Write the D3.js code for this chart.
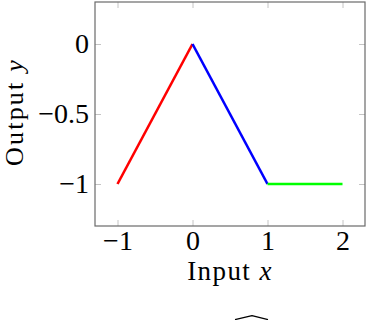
<!DOCTYPE html>
<html>
<head>
<meta charset="utf-8">
<script src="https://cdn.jsdelivr.net/npm/d3@7"></script>
<style>
  body { margin: 0; background: #fff; }
  text { font-family: "Liberation Serif", "DejaVu Serif", serif; fill: #000; }
</style>
</head>
<body>
<svg id="chart" width="366" height="320"></svg>
<script>
// piecewise segments
const segmentNames = ["rise", "fall", "flat"];
const segmentX = [[-1, 0], [0, 1], [1, 2]];
const segmentY = [[-1, 0], [0, -1], [-1, -1]];
const segmentColors = ["#ff0000", "#0000ff", "#00ff00"];

const xTicks = [-1, 0, 1, 2];
const yTicks = [0, -0.5, -1];
const xDomain = [-1.3, 2.3];
const yDomain = [-1.3, 0.3];

const svg = d3.select("#chart");
const margin = { top: 2, right: 1, bottom: 94, left: 95 };
const width = +svg.attr("width") - margin.left - margin.right;
const height = +svg.attr("height") - margin.top - margin.bottom;
const g = svg.append("g").attr("transform", `translate(${margin.left},${margin.top})`);

const x = d3.scaleLinear().domain(xDomain).range([0, width]);
const y = d3.scaleLinear().domain(yDomain).range([height, 0]);

const fmt = d => (d < 0 ? "\u2212" : "") + String(Math.abs(d));
const tickLen = 6;

// inner ticks on all four sides
const tickStyle = sel => {
  sel.select(".domain").remove();
  sel.selectAll(".tick line").attr("stroke", "#c4c4c4").attr("stroke-width", 1);
};

g.append("g")
  .attr("transform", `translate(0,${height})`)
  .call(d3.axisBottom(x).tickValues(xTicks).tickSize(-tickLen).tickFormat(fmt))
  .call(tickStyle)
  .selectAll("text")
  .attr("font-size", 28).attr("font-family", null)
  .attr("y", 24).attr("dy", null);

g.append("g")
  .call(d3.axisTop(x).tickValues(xTicks).tickSize(-tickLen).tickFormat(""))
  .call(tickStyle);

g.append("g")
  .call(d3.axisLeft(y).tickValues(yTicks).tickSize(-tickLen).tickPadding(6).tickFormat(fmt))
  .call(tickStyle)
  .selectAll("text").attr("font-size", 28).attr("font-family", null);

g.append("g")
  .attr("transform", `translate(${width},0)`)
  .call(d3.axisRight(y).tickValues(yTicks).tickSize(-tickLen).tickFormat(""))
  .call(tickStyle);

// frame
g.append("rect")
  .attr("x", 0).attr("y", 0)
  .attr("width", width).attr("height", height)
  .attr("fill", "none")
  .attr("stroke", "#6a6a6a")
  .attr("stroke-width", 1.2);

// segments
const line = d3.line().x(d => x(d[0])).y(d => y(d[1]));
g.selectAll(".seg")
  .data(segmentNames.map((n, i) => ({
    name: n,
    color: segmentColors[i],
    pts: segmentX[i].map((xv, j) => [xv, segmentY[i][j]])
  })))
  .join("path")
  .attr("class", "seg")
  .attr("fill", "none")
  .attr("stroke", d => d.color)
  .attr("stroke-width", 2.6)
  .attr("d", d => line(d.pts));

// axis labels
const xl = svg.append("text")
  .attr("x", margin.left + width / 2)
  .attr("y", 280)
  .attr("text-anchor", "middle")
  .attr("font-size", 27)
  .attr("letter-spacing", 1.4);
xl.append("tspan").text("Input ");
xl.append("tspan").attr("font-style", "italic").text("x");

const yl = svg.append("text")
  .attr("transform", `translate(23,${margin.top + height / 2 - 2}) rotate(-90)`)
  .attr("text-anchor", "middle")
  .attr("font-size", 26)
  .attr("letter-spacing", 2.2);
yl.append("tspan").text("Output ");
yl.append("tspan").attr("font-style", "italic").text("y");

// clipped wide hat at the bottom edge
svg.append("path")
  .attr("d", "M235,319.6 L252,315.6 L268,319.6")
  .attr("fill", "none")
  .attr("stroke", "#000")
  .attr("stroke-width", 1.3)
  .attr("stroke-linejoin", "round");
</script>
</body>
</html>
